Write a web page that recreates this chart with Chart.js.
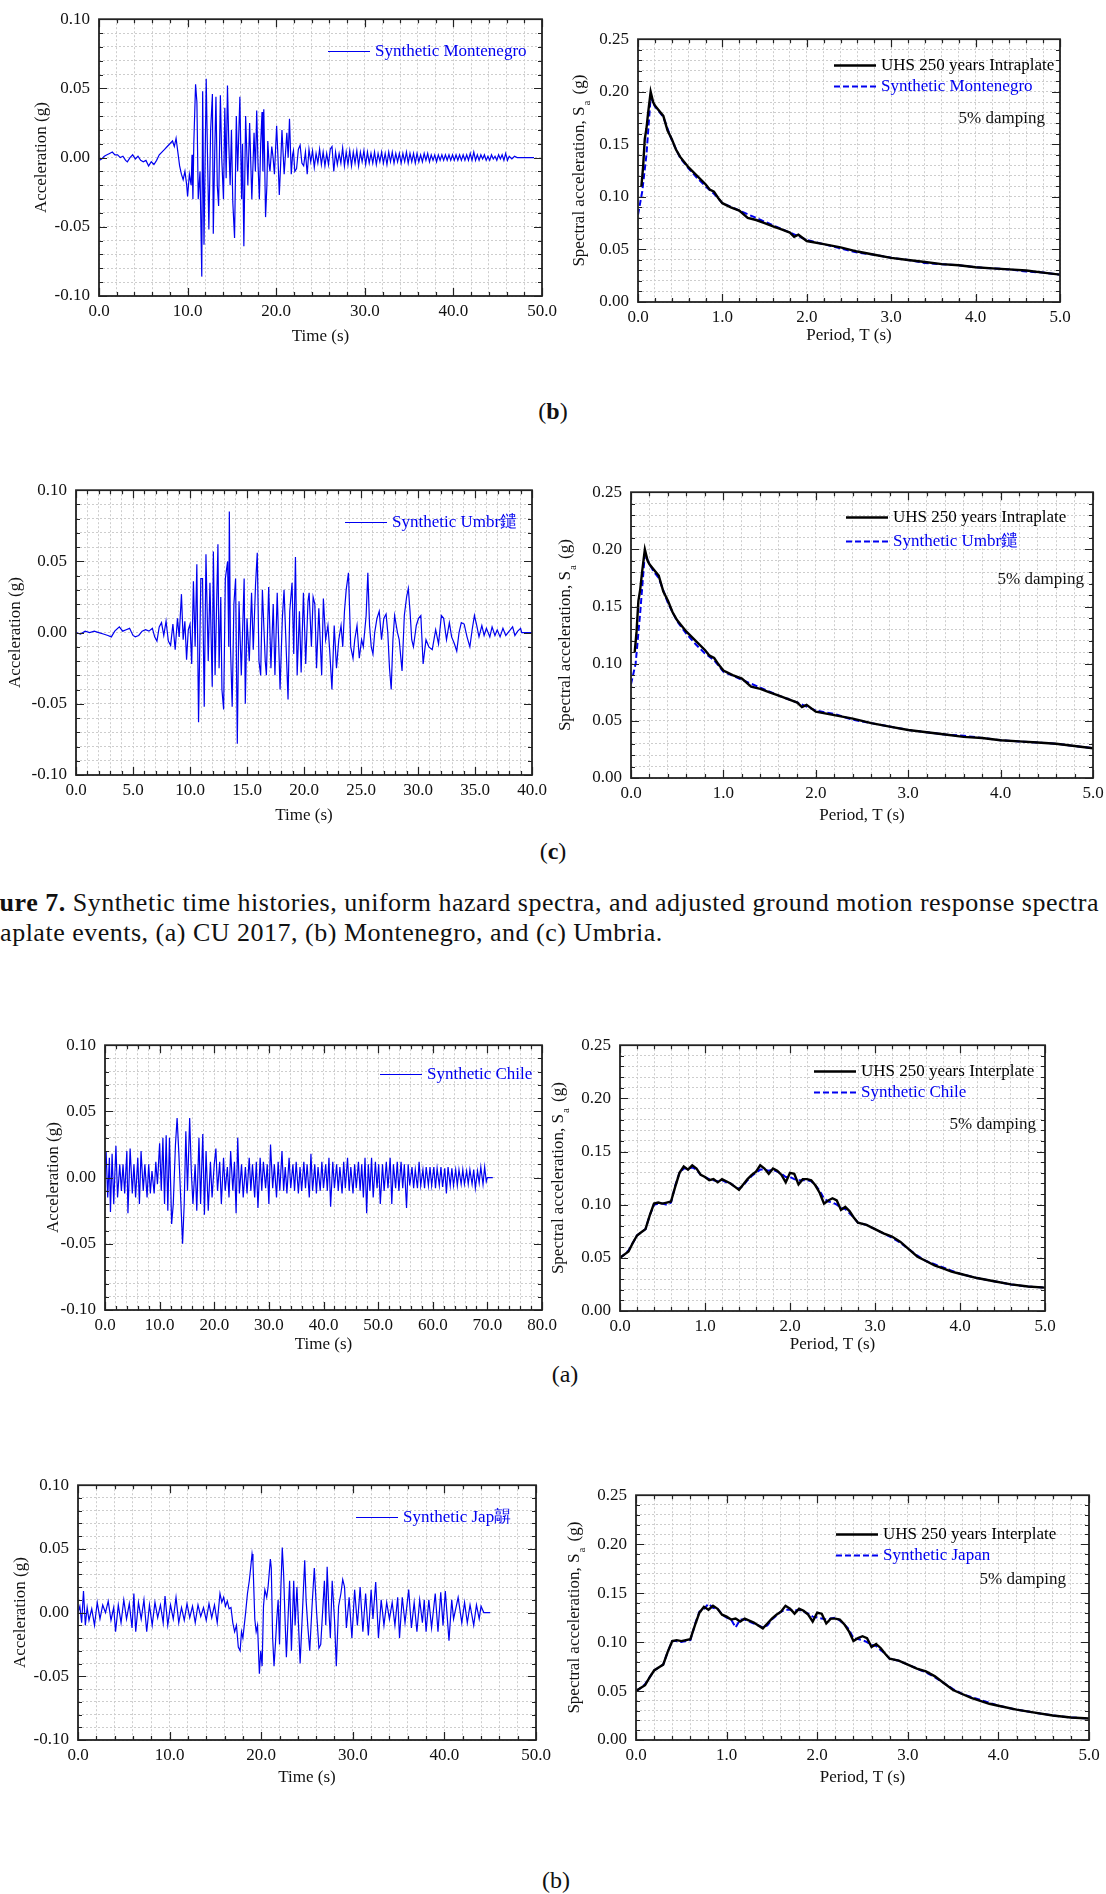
<!DOCTYPE html>
<html>
<head>
<meta charset="utf-8">
<title>Synthetic time histories and response spectra</title>
<script src="https://cdn.jsdelivr.net/npm/chart.js@4.4.1/dist/chart.umd.min.js"></script>
<style>
html, body { margin: 0; padding: 0; background: #fff; }
body { width: 1106px; height: 1894px; position: relative; overflow: hidden; font-family: 'Liberation Serif', 'Times New Roman', serif; color: #111; }
canvas { position: absolute; }
.lbl { position: absolute; font-size: 24px; line-height: 28px; transform: translateX(-50%); white-space: nowrap; }
.cap { position: absolute; left: -38px; font-size: 26px; line-height: 30px; letter-spacing: 0.5px; white-space: nowrap; }
</style>
</head>
<body>
<div class="lbl" style="left:553px;top:397px">(<b>b</b>)</div>
<div class="lbl" style="left:553px;top:837px">(<b>c</b>)</div>
<div class="cap" style="top:888px"><b>Figure 7.</b> Synthetic time histories, uniform hazard spectra, and adjusted ground motion response spectra</div>
<div class="cap" style="top:918px">intraplate events, (a) CU 2017, (b) Montenegro, and (c) Umbria.</div>
<div class="lbl" style="left:565px;top:1360px">(a)</div>
<div class="lbl" style="left:556px;top:1866px">(b)</div>

<script>
// ---- data ----
// time histories: [time (s), acceleration (g)]
const montenegroRecord = [[0,-0.002],[0.3,-0.001],[0.6,0.001],[0.9,0.002],[1.2,0.003],[1.5,0.004],[1.8,0.002],[2.1,0.002],[2.4,0],[2.7,0.001],[3.0,-0.002],[3.2,-0.003],[3.5,0],[3.8,0.002],[4.1,-0.001],[4.4,0.001],[4.7,-0.002],[5.0,-0.003],[5.3,-0.002],[5.6,-0.006],[5.9,-0.003],[6.2,-0.005],[6.5,-0.002],[6.8,0.002],[7.1,0.004],[7.4,0.006],[7.7,0.008],[8.0,0.01],[8.3,0.012],[8.5,0.008],[8.7,0.014],[8.9,0.004],[9.1,-0.006],[9.3,-0.012],[9.5,-0.016],[9.7,-0.01],[9.9,-0.02],[10.0,-0.028],[10.2,-0.012],[10.4,-0.02],[10.5,0.002],[10.6,-0.03],[10.7,0.01],[10.9,0.053],[11.05,0.04],[11.2,-0.03],[11.4,-0.01],[11.6,-0.086],[11.7,0.048],[11.85,-0.063],[12.1,0.057],[12.25,0],[12.4,-0.052],[12.6,0.02],[12.8,0.046],[12.9,-0.055],[13.05,0],[13.2,0.044],[13.35,-0.02],[13.5,-0.035],[13.7,0.045],[13.85,0],[14.05,-0.03],[14.2,0.036],[14.35,-0.015],[14.5,0.052],[14.65,0.01],[14.8,-0.02],[14.95,0.02],[15.1,-0.032],[15.3,-0.058],[15.5,0.03],[15.65,-0.01],[15.9,0.044],[16.1,-0.03],[16.2,0.01],[16.35,-0.064],[16.55,0.03],[16.7,0],[16.8,-0.02],[17.0,0.025],[17.25,-0.03],[17.5,0.018],[17.65,-0.01],[17.8,0.034],[17.95,-0.005],[18.1,-0.03],[18.25,0.01],[18.4,0.033],[18.5,-0.01],[18.6,0.035],[18.8,-0.043],[18.95,-0.02],[19.05,0.012],[19.2,-0.005],[19.3,-0.01],[19.5,0.008],[19.65,0],[19.8,-0.012],[20.05,0.023],[20.2,0],[20.35,-0.027],[20.5,-0.005],[20.65,0.02],[20.9,-0.012],[21.2,0.018],[21.35,0],[21.5,0.028],[21.7,-0.012],[21.85,0.002],[21.95,0.005],[22.1,-0.01],[22.3,-0.008],[22.5,0.006],[22.7,0.009],[22.9,-0.004],[23.1,-0.006],[23.3,0.004],[23.5,-0.012],[23.7,0.006],[23.9,-0.003],[24.1,0.005],[24.3,-0.007],[24.5,0.003],[24.7,-0.004],[24.9,0.006],[25.1,-0.005],[25.3,0.004],[25.5,-0.006],[25.7,0.003],[25.9,-0.005],[26.1,0.006],[26.3,0.008],[26.5,-0.01],[26.7,0.004],[26.9,-0.005],[27.1,0.003],[27.3,-0.004],[27.5,0.007],[27.7,-0.006],[27.9,0.004],[28.1,-0.005],[28.3,0.005],[28.5,-0.006],[28.7,0.004],[28.9,-0.004],[29.1,0.005],[29.3,-0.006],[29.5,0.004],[29.7,-0.003],[29.9,0.005],[30.1,-0.005],[30.3,0.004],[30.5,-0.004],[30.7,0.003],[30.9,-0.004],[31.1,0.004],[31.3,-0.005],[31.5,0.003],[31.7,-0.003],[31.9,0.004],[32.1,-0.004],[32.3,0.003],[32.5,-0.005],[32.7,0.004],[32.9,-0.003],[33.1,0.004],[33.3,-0.004],[33.5,0.003],[33.7,-0.003],[33.9,0.003],[34.1,-0.004],[34.3,0.003],[34.5,-0.003],[34.7,0.004],[34.9,-0.004],[35.1,0.003],[35.3,-0.003],[35.5,0.003],[35.7,-0.004],[35.9,0.003],[36.1,-0.003],[36.3,0.002],[36.5,-0.003],[36.7,0.003],[36.9,-0.002],[37.1,0.003],[37.3,-0.003],[37.5,0.002],[37.7,-0.002],[37.9,0.002],[38.1,-0.003],[38.3,0.002],[38.5,-0.002],[38.7,0.002],[38.9,-0.002],[39.1,0.002],[39.3,-0.002],[39.5,0.002],[39.7,-0.002],[39.9,0.002],[40.1,-0.002],[40.3,0.002],[40.5,-0.002],[40.7,0.002],[40.9,-0.002],[41.1,0.002],[41.3,-0.002],[41.5,0.002],[41.7,-0.002],[41.9,0.003],[42.1,-0.002],[42.3,0.004],[42.5,-0.002],[42.7,0.002],[42.9,-0.002],[43.1,0.002],[43.3,-0.001],[43.5,0.002],[43.7,-0.002],[43.9,0.001],[44.1,-0.002],[44.3,0.002],[44.5,-0.001],[44.7,0.001],[44.9,-0.002],[45.1,0.002],[45.3,-0.001],[45.5,0.002],[45.7,-0.002],[45.9,0.003],[46.1,-0.002],[46.3,0.001],[46.6,-0.001],[46.9,0.001],[47.2,0],[49.1,0]];

const umbriaRecord = [[0,0],[0.4,-0.001],[0.8,0.001],[1.2,0],[1.6,0.001],[2.0,0],[2.4,-0.001],[2.8,-0.002],[3.1,-0.003],[3.4,0.001],[3.8,0.004],[4.1,0.001],[4.4,0.002],[4.7,0.003],[5.0,-0.002],[5.2,-0.003],[5.5,-0.002],[5.8,0.001],[6.1,0.002],[6.4,0.001],[6.7,0.003],[6.9,-0.003],[7.1,-0.006],[7.3,0.004],[7.5,0.007],[7.7,-0.002],[7.9,0.008],[8.1,-0.006],[8.3,-0.009],[8.5,0.006],[8.7,-0.012],[8.9,0.01],[9.05,-0.003],[9.25,0.027],[9.4,-0.005],[9.55,0.008],[9.7,-0.019],[9.85,0.002],[10.0,0.006],[10.15,-0.022],[10.3,0.036],[10.45,-0.01],[10.6,0.048],[10.75,-0.063],[10.95,0.038],[11.1,0.038],[11.25,-0.052],[11.4,0.055],[11.6,-0.02],[11.75,0.035],[11.95,-0.038],[12.05,0.057],[12.2,-0.03],[12.45,0.062],[12.55,-0.025],[12.7,0.025],[12.8,-0.04],[12.95,-0.054],[13.1,0.038],[13.3,0.05],[13.4,-0.01],[13.45,0.085],[13.55,-0.01],[13.7,-0.052],[13.85,0.02],[14.0,0.038],[14.15,-0.078],[14.3,0.022],[14.5,-0.03],[14.75,0.038],[14.85,-0.05],[15.0,0.01],[15.2,-0.02],[15.4,0.028],[15.55,-0.012],[15.75,0.034],[15.9,0.056],[16.05,-0.02],[16.2,-0.03],[16.35,0.03],[16.6,-0.02],[16.7,-0.03],[16.9,0.032],[17.1,-0.025],[17.3,0.02],[17.45,-0.03],[17.65,0.028],[17.9,-0.04],[18.1,0.01],[18.25,0.03],[18.6,-0.047],[18.75,0.015],[18.95,0.035],[19.1,-0.015],[19.25,0.053],[19.4,-0.03],[19.6,0.015],[19.75,-0.028],[19.95,0.028],[20.15,-0.022],[20.35,0.022],[20.45,0.028],[20.65,-0.01],[20.8,0.025],[20.95,0.02],[21.1,-0.025],[21.3,0.017],[21.55,-0.03],[21.7,0.024],[21.9,-0.005],[22.1,0.005],[22.25,-0.012],[22.45,-0.04],[22.65,0.005],[22.85,-0.025],[23.05,-0.005],[23.25,0.005],[23.4,-0.01],[23.55,0.015],[23.7,0.03],[23.9,0.042],[24.1,-0.01],[24.3,-0.018],[24.45,-0.005],[24.65,0.005],[24.85,-0.018],[25.05,-0.005],[25.2,-0.01],[25.45,0.012],[25.6,0.042],[25.75,0.005],[25.9,-0.01],[26.05,-0.015],[26.2,0],[26.4,0.01],[26.6,0.015],[26.8,-0.005],[27.0,0.01],[27.2,0.013],[27.35,0],[27.5,-0.025],[27.65,-0.04],[27.8,-0.005],[27.95,0.012],[28.2,0],[28.35,-0.005],[28.6,-0.027],[28.8,0.012],[29.0,0.025],[29.15,0.031],[29.3,0.015],[29.45,-0.005],[29.6,-0.01],[29.85,0.005],[30.05,0.01],[30.25,0.012],[30.45,-0.022],[30.7,-0.005],[30.95,-0.01],[31.25,-0.012],[31.55,0.002],[31.8,-0.008],[32.05,0.012],[32.25,0.01],[32.5,-0.005],[32.75,0.007],[32.95,-0.003],[33.2,-0.008],[33.4,-0.013],[33.6,0],[33.8,0.007],[34.05,0.006],[34.3,-0.003],[34.55,-0.01],[34.75,0.002],[34.95,0.012],[35.15,0.005],[35.35,-0.003],[35.6,0.005],[35.8,-0.002],[36.0,0.003],[36.3,-0.003],[36.5,0.004],[36.75,-0.002],[36.95,0.002],[37.2,-0.003],[37.45,0.003],[37.7,-0.002],[38.0,0.001],[38.3,0.004],[38.5,-0.002],[38.75,0.001],[39.0,0.003],[39.1,0],[40,0]];

const chileRecord = [[0,0],[0.2,0.02],[0.5,-0.015],[0.8,0.015],[1.0,-0.026],[1.3,0.018],[1.6,-0.02],[2.0,0.024],[2.3,-0.015],[2.7,0.01],[3.0,-0.01],[3.3,0.01],[3.6,-0.012],[4.0,0.02],[4.2,-0.027],[4.6,0.022],[5.0,-0.012],[5.3,0.01],[5.6,-0.015],[6.0,0.015],[6.3,-0.02],[6.6,0.02],[7.0,-0.01],[7.3,0.01],[7.7,-0.015],[8.0,0.01],[8.3,-0.012],[8.6,0.005],[9.0,-0.012],[9.3,0.012],[9.6,-0.005],[10.0,0.026],[10.3,-0.01],[10.6,0.03],[10.9,-0.02],[11.2,0.032],[11.5,-0.025],[11.8,0.03],[12.2,-0.035],[12.5,-0.02],[12.9,0.025],[13.2,0.045],[13.5,0.02],[13.8,-0.01],[14.2,-0.05],[14.5,-0.02],[14.8,0.035],[15.1,-0.01],[15.5,0.045],[15.8,0.005],[16.1,-0.02],[16.5,0.01],[16.8,-0.025],[17.2,0.03],[17.5,-0.02],[17.9,0.033],[18.2,-0.028],[18.5,0.02],[18.9,-0.025],[19.3,0.012],[19.6,-0.015],[20.0,0.01],[20.3,0.022],[20.6,-0.01],[21.0,0.012],[21.3,-0.02],[21.7,0.015],[22.0,-0.01],[22.4,0.008],[22.7,-0.015],[23.0,0.02],[23.4,-0.01],[23.7,0.012],[24.0,-0.027],[24.3,0.03],[24.6,-0.012],[25.0,0.01],[25.3,-0.015],[25.7,0.008],[26.0,-0.012],[26.4,0.015],[26.7,-0.01],[27.0,0.01],[27.4,-0.015],[27.7,0.012],[28.0,-0.023],[28.4,0.015],[28.7,-0.01],[29.0,0.012],[29.4,-0.008],[29.7,0.01],[30.0,-0.02],[30.3,0.025],[30.7,-0.008],[31.0,0.01],[31.4,-0.015],[31.7,0.012],[32.0,-0.01],[32.4,0.02],[32.7,-0.01],[33.0,0.008],[33.3,-0.012],[33.7,0.015],[34.0,-0.008],[34.4,0.01],[34.7,-0.01],[35.0,0.012],[35.4,-0.012],[35.7,0.008],[36.0,-0.01],[36.4,0.012],[36.7,-0.008],[37.0,0.01],[37.4,-0.015],[37.7,0.018],[38.0,-0.01],[38.4,0.01],[38.7,-0.012],[39.0,0.008],[39.4,-0.01],[39.7,0.012],[40.0,-0.008],[40.4,0.01],[40.7,-0.01],[41.0,0.015],[41.3,-0.022],[41.7,0.012],[42.0,-0.008],[42.4,0.01],[42.7,-0.01],[43.0,0.008],[43.4,-0.012],[43.7,0.012],[44.0,-0.008],[44.4,0.015],[44.7,-0.01],[45.0,0.008],[45.4,-0.012],[45.7,0.01],[46.0,-0.008],[46.4,0.012],[46.7,-0.01],[47.0,0.01],[47.3,-0.015],[47.6,0.015],[47.9,-0.027],[48.2,0.01],[48.5,-0.01],[48.8,0.015],[49.1,-0.015],[49.5,0.012],[49.8,-0.008],[50.1,0.01],[50.4,-0.02],[50.8,0.01],[51.1,-0.01],[51.5,0.012],[51.8,-0.008],[52.2,0.015],[52.5,-0.02],[52.8,0.01],[53.2,-0.008],[53.5,0.012],[53.8,-0.01],[54.2,0.012],[54.5,-0.008],[54.8,0.01],[55.2,-0.023],[55.5,0.01],[55.8,-0.006],[56.2,0.008],[56.5,-0.008],[56.8,0.006],[57.2,-0.008],[57.5,0.012],[57.8,-0.006],[58.2,0.006],[58.5,-0.008],[58.8,0.008],[59.2,-0.006],[59.5,0.008],[59.8,-0.006],[60.2,0.008],[60.5,-0.008],[60.8,0.007],[61.2,-0.006],[61.5,0.008],[61.8,-0.007],[62.2,0.007],[62.5,-0.012],[62.8,0.008],[63.2,-0.006],[63.5,0.007],[63.8,-0.006],[64.2,0.006],[64.5,-0.006],[64.8,0.006],[65.2,-0.005],[65.5,0.006],[65.8,-0.005],[66.2,0.005],[66.5,-0.005],[66.8,0.006],[67.2,-0.005],[67.5,0.006],[67.8,-0.008],[68.2,0.005],[68.5,-0.004],[68.8,0.008],[69.2,-0.005],[69.5,0.008],[69.8,-0.003],[70.0,0],[71.0,0]];

const japanRecord = [[0,0],[0.2,0.005],[0.4,-0.008],[0.6,0.017],[0.8,-0.01],[1.0,0.004],[1.2,-0.006],[1.5,0.003],[1.8,-0.01],[2.1,0.008],[2.4,-0.005],[2.7,0.006],[3.0,0],[3.3,0.009],[3.6,-0.006],[3.9,0.004],[4.1,-0.015],[4.4,0.006],[4.7,-0.008],[5.0,0.01],[5.3,-0.005],[5.6,0.007],[5.9,-0.012],[6.1,0.015],[6.3,-0.015],[6.6,0.008],[6.9,-0.005],[7.2,0.01],[7.5,-0.015],[7.8,0.006],[8.1,-0.01],[8.4,0.008],[8.7,-0.004],[9.0,0.006],[9.3,-0.008],[9.5,0.013],[9.8,-0.01],[10.1,0.006],[10.4,-0.005],[10.7,0.012],[11.0,-0.008],[11.3,0.004],[11.6,-0.006],[11.9,0.007],[12.2,-0.004],[12.5,0.005],[12.8,-0.008],[13.1,0.006],[13.4,-0.003],[13.7,0.004],[14.0,-0.006],[14.3,0.007],[14.6,-0.004],[14.9,0.006],[15.2,-0.008],[15.5,0.015],[15.7,0.008],[15.9,0.012],[16.1,0.005],[16.3,0.009],[16.5,0.003],[16.7,0.004],[16.9,-0.008],[17.1,-0.015],[17.3,-0.01],[17.5,-0.027],[17.7,-0.03],[17.85,-0.015],[18.0,-0.02],[18.15,-0.01],[18.3,0],[18.5,0.015],[18.7,0.025],[18.85,0.035],[19.0,0.046],[19.1,0.04],[19.3,-0.005],[19.45,-0.015],[19.6,-0.01],[19.8,-0.048],[19.95,-0.03],[20.1,-0.042],[20.25,0.005],[20.4,0.018],[20.6,0.012],[20.75,0.02],[21.0,0.042],[21.1,0.035],[21.25,-0.02],[21.4,-0.042],[21.55,-0.025],[21.7,-0.005],[21.85,0.01],[22.0,-0.025],[22.15,0.02],[22.3,0.051],[22.45,0.03],[22.6,-0.005],[22.75,-0.035],[22.9,-0.01],[23.1,0.025],[23.3,-0.03],[23.55,0.025],[23.7,-0.01],[23.9,0.02],[24.25,-0.04],[24.5,0],[24.75,0.041],[24.9,0.01],[25.1,-0.012],[25.3,-0.03],[25.55,0.005],[25.8,0.035],[26.05,0],[26.3,-0.028],[26.5,-0.025],[26.7,0],[26.9,0.025],[27.05,-0.01],[27.2,0.036],[27.4,0],[27.55,-0.02],[27.75,0.025],[28.0,-0.005],[28.2,-0.042],[28.45,0.005],[28.7,0.015],[28.9,0.026],[29.1,0.02],[29.3,-0.012],[29.6,0.012],[29.9,-0.02],[30.2,0.018],[30.5,-0.01],[30.8,0.02],[31.1,-0.015],[31.4,0.015],[31.7,-0.018],[32.0,0.018],[32.2,-0.005],[32.5,0.024],[32.8,-0.02],[33.1,0.01],[33.4,-0.01],[33.7,0.008],[34.0,-0.005],[34.3,0.008],[34.6,-0.01],[34.9,0.012],[35.1,-0.02],[35.4,0.012],[35.7,-0.008],[36.1,0.018],[36.4,-0.012],[36.7,0.008],[37.0,-0.015],[37.3,0.01],[37.6,-0.008],[37.8,0.01],[38.0,-0.015],[38.3,0.01],[38.6,-0.012],[39.0,0.015],[39.3,-0.015],[39.6,0.016],[39.85,-0.01],[40.1,0.017],[40.5,-0.022],[40.8,0.01],[41.0,-0.005],[41.5,0.012],[41.9,-0.008],[42.2,0.008],[42.5,-0.008],[42.8,0.006],[43.2,-0.01],[43.5,0.006],[43.8,-0.005],[44.0,0.005],[44.3,0],[45.0,0]];

// response spectra: periods (s) and spectral acceleration (g)
const periodsUhsIntra = [0.04, 0.06, 0.08, 0.1, 0.12, 0.15, 0.18, 0.2, 0.25, 0.3, 0.35, 0.4, 0.45, 0.5, 0.55, 0.6, 0.7, 0.8, 0.85, 0.9, 0.95, 1.0, 1.1, 1.2, 1.3, 1.4, 1.5, 1.6, 1.7, 1.8, 1.85, 1.9, 2.0, 2.2, 2.4, 2.6, 2.8, 3.0, 3.2, 3.4, 3.6, 3.8, 4.0, 4.2, 4.4, 4.6, 4.8, 5.0];
const uhsIntraplate = [0.11, 0.128, 0.155, 0.165, 0.18, 0.2, 0.19, 0.187, 0.182, 0.177, 0.163, 0.155, 0.145, 0.138, 0.133, 0.128, 0.12, 0.112, 0.107, 0.105, 0.099, 0.094, 0.09, 0.087, 0.08, 0.078, 0.075, 0.072, 0.069, 0.066, 0.062, 0.064, 0.058, 0.055, 0.052, 0.048, 0.045, 0.042, 0.04, 0.038, 0.036, 0.035, 0.033, 0.032, 0.031, 0.03, 0.028, 0.026];
const periodsSynthIntra = [0, 0.05, 0.1, 0.15, 0.2, 0.25, 0.3, 0.4, 0.5, 0.6, 0.7, 0.8, 0.9, 1.0, 1.2, 1.4, 1.6, 1.8, 2.0, 2.2, 2.4, 2.6, 2.8, 3.0, 3.2, 3.4, 3.6, 3.8, 4.0, 4.2, 4.4, 4.6, 4.8, 5.0];
const synthMontenegro = [0.083, 0.105, 0.14, 0.195, 0.186, 0.181, 0.176, 0.154, 0.137, 0.127, 0.118, 0.11, 0.103, 0.094, 0.087, 0.08, 0.073, 0.066, 0.059, 0.055, 0.051, 0.047, 0.045, 0.042, 0.04, 0.037, 0.036, 0.035, 0.033, 0.032, 0.031, 0.029, 0.028, 0.026];
const synthUmbria = [0.082, 0.1, 0.145, 0.196, 0.187, 0.18, 0.175, 0.153, 0.137, 0.126, 0.117, 0.109, 0.103, 0.093, 0.086, 0.079, 0.072, 0.066, 0.059, 0.056, 0.051, 0.048, 0.045, 0.042, 0.04, 0.038, 0.037, 0.035, 0.033, 0.032, 0.031, 0.03, 0.028, 0.026];

const periodsInter = [0, 0.05, 0.1, 0.15, 0.2, 0.25, 0.3, 0.35, 0.4, 0.45, 0.5, 0.55, 0.6, 0.65, 0.7, 0.75, 0.8, 0.85, 0.9, 0.95, 1.0, 1.05, 1.1, 1.15, 1.2, 1.25, 1.3, 1.35, 1.4, 1.45, 1.5, 1.55, 1.6, 1.65, 1.7, 1.75, 1.8, 1.85, 1.9, 1.95, 2.0, 2.05, 2.1, 2.15, 2.2, 2.25, 2.3, 2.35, 2.4, 2.45, 2.5, 2.55, 2.6, 2.65, 2.7, 2.75, 2.8, 2.9, 3.0, 3.1, 3.2, 3.3, 3.4, 3.5, 3.6, 3.7, 3.8, 3.9, 4.0, 4.2, 4.4, 4.6, 4.8, 5.0];
const uhsInterplate = [0.05, 0.053, 0.056, 0.064, 0.071, 0.074, 0.077, 0.09, 0.101, 0.102, 0.101, 0.102, 0.103, 0.117, 0.13, 0.136, 0.133, 0.137, 0.134, 0.128, 0.126, 0.123, 0.124, 0.121, 0.124, 0.122, 0.12, 0.117, 0.114, 0.119, 0.124, 0.128, 0.131, 0.137, 0.134, 0.129, 0.134, 0.132, 0.128, 0.121, 0.13, 0.129, 0.119, 0.124, 0.124, 0.123, 0.118, 0.111, 0.101, 0.104, 0.106, 0.104, 0.095, 0.098, 0.094, 0.088, 0.083, 0.081, 0.077, 0.073, 0.07, 0.065, 0.058, 0.051, 0.047, 0.043, 0.04, 0.037, 0.035, 0.031, 0.028, 0.025, 0.023, 0.022];
const synthChile = [0.05, 0.053, 0.057, 0.064, 0.071, 0.074, 0.077, 0.09, 0.1, 0.101, 0.101, 0.1, 0.102, 0.118, 0.13, 0.134, 0.134, 0.135, 0.133, 0.128, 0.126, 0.124, 0.123, 0.122, 0.123, 0.121, 0.12, 0.117, 0.115, 0.118, 0.123, 0.127, 0.13, 0.133, 0.133, 0.132, 0.133, 0.131, 0.129, 0.126, 0.126, 0.124, 0.123, 0.123, 0.123, 0.122, 0.118, 0.113, 0.106, 0.103, 0.102, 0.1, 0.097, 0.096, 0.092, 0.088, 0.083, 0.081, 0.077, 0.073, 0.069, 0.064, 0.058, 0.052, 0.047, 0.044, 0.041, 0.038, 0.035, 0.031, 0.028, 0.025, 0.023, 0.022];
const synthJapan = [0.05, 0.053, 0.057, 0.064, 0.071, 0.074, 0.077, 0.09, 0.101, 0.101, 0.1, 0.101, 0.102, 0.118, 0.131, 0.134, 0.139, 0.135, 0.134, 0.128, 0.125, 0.123, 0.115, 0.123, 0.123, 0.121, 0.119, 0.117, 0.115, 0.117, 0.123, 0.127, 0.131, 0.133, 0.133, 0.132, 0.133, 0.131, 0.129, 0.126, 0.125, 0.124, 0.123, 0.124, 0.125, 0.122, 0.118, 0.113, 0.104, 0.103, 0.102, 0.1, 0.097, 0.096, 0.092, 0.088, 0.083, 0.081, 0.077, 0.073, 0.069, 0.064, 0.058, 0.052, 0.047, 0.044, 0.041, 0.038, 0.035, 0.031, 0.028, 0.025, 0.023, 0.022];

// ---- drawing ----
const FONT = "'Liberation Serif', 'Times New Roman', serif";
Chart.defaults.font.family = FONT;
Chart.defaults.font.size = 17;
Chart.defaults.color = '#111';

const BLUE = '#0000f0';
const Y_BOX = 100, X_BOX = 60, PAD_T = 16, PAD_R = 30;
const LINE_H = 17 * 1.2;

function onStep(v, step) {
  const k = v / step;
  return Math.abs(k - Math.round(k)) < 1e-6;
}

function axis(a, horizontal) {
  return {
    type: 'linear',
    min: a.min,
    max: a.max,
    afterFit(scale) {
      if (horizontal) scale.height = X_BOX; else scale.width = Y_BOX;
    },
    ticks: {
      stepSize: a.minor,
      autoSkip: false,
      maxRotation: 0,
      minRotation: 0,
      padding: horizontal ? 5 : 9,
      callback: v => onStep(v, a.major) ? Number(v).toFixed(a.digits) : ''
    },
    grid: { color: '#cdcdcd', lineWidth: 1, drawTicks: false },
    border: { display: false, dash: [2, 2] },
    title: a.title ? {
      display: true,
      text: a.title,
      padding: horizontal ? { top: 0, bottom: X_BOX - a.off - LINE_H / 2 } : { top: Y_BOX - a.off - LINE_H / 2, bottom: 0 }
    } : { display: false }
  };
}

// frame with inward ticks, in-plot legend, note and the S_a axis title
function framePlugin(cfg) {
  return {
    id: 'frame',
    afterDraw(chart) {
      const { ctx, chartArea: a, scales } = chart;
      ctx.save();
      ctx.strokeStyle = '#222';
      ctx.lineWidth = 1.2;
      ctx.beginPath();
      scales.x.ticks.forEach(t => {
        const p = Math.round(scales.x.getPixelForValue(t.value)) + 0.5;
        const n = onStep(t.value, cfg.xMajor) ? 8 : 4;
        ctx.moveTo(p, a.bottom); ctx.lineTo(p, a.bottom - n);
        ctx.moveTo(p, a.top); ctx.lineTo(p, a.top + n);
      });
      scales.y.ticks.forEach(t => {
        const p = Math.round(scales.y.getPixelForValue(t.value)) + 0.5;
        const n = onStep(t.value, cfg.yMajor) ? 8 : 4;
        ctx.moveTo(a.left, p); ctx.lineTo(a.left + n, p);
        ctx.moveTo(a.right, p); ctx.lineTo(a.right - n, p);
      });
      ctx.stroke();
      ctx.lineWidth = 1.8;
      ctx.strokeRect(a.left, a.top, a.right - a.left, a.bottom - a.top);

      ctx.font = '17px ' + FONT;
      ctx.textBaseline = 'middle';
      chart.data.datasets.forEach((ds, i) => {
        const x = a.left + cfg.legend.x;
        const y = Math.round(a.top + cfg.legend.y + i * cfg.legend.gap) + 0.5;
        ctx.strokeStyle = ds.borderColor;
        ctx.lineWidth = ds.borderWidth;
        ctx.setLineDash(ds.borderDash || []);
        ctx.beginPath(); ctx.moveTo(x, y); ctx.lineTo(x + 42, y); ctx.stroke();
        ctx.setLineDash([]);
        ctx.fillStyle = ds.borderColor;
        ctx.textAlign = 'left';
        ctx.fillText(ds.label, x + 47, y);
      });
      if (cfg.note) {
        ctx.fillStyle = '#111';
        ctx.textAlign = 'right';
        ctx.fillText('5% damping', a.right - cfg.note.right, a.top + cfg.note.y);
      }
      if (cfg.saTitle) {
        const big = '17px ' + FONT, small = '11px ' + FONT;
        const main = 'Spectral acceleration, S', sub = 'a', tail = ' (g)';
        ctx.translate(a.left - cfg.saTitle, (a.top + a.bottom) / 2);
        ctx.rotate(-Math.PI / 2);
        ctx.font = big;
        const w1 = ctx.measureText(main).width, w3 = ctx.measureText(tail).width;
        ctx.font = small;
        const w2 = ctx.measureText(sub).width;
        const x0 = -(w1 + w2 + w3 + 3) / 2;
        ctx.fillStyle = '#111';
        ctx.textAlign = 'left';
        ctx.font = big; ctx.fillText(main, x0, 0);
        ctx.font = small; ctx.fillText(sub, x0 + w1 + 1, 7);
        ctx.font = big; ctx.fillText(tail, x0 + w1 + w2 + 3, 0);
      }
      ctx.restore();
    }
  };
}

function makeChart(box, datasets, xAxis, yAxis, extra) {
  const c = document.createElement('canvas');
  const w = box.r - box.l + Y_BOX + PAD_R;
  const h = box.b - box.t + PAD_T + X_BOX;
  c.width = w; c.height = h;
  c.style.left = (box.l - Y_BOX) + 'px';
  c.style.top = (box.t - PAD_T) + 'px';
  c.style.width = w + 'px'; c.style.height = h + 'px';
  document.body.appendChild(c);
  extra.xMajor = xAxis.major;
  extra.yMajor = yAxis.major;
  return new Chart(c.getContext('2d'), {
    type: 'line',
    data: { datasets },
    options: {
      responsive: false,
      animation: false,
      events: [],
      layout: { padding: { top: PAD_T, right: PAD_R, bottom: 0, left: 0 } },
      elements: { point: { radius: 0 }, line: { tension: 0 } },
      plugins: { legend: { display: false }, tooltip: { enabled: false } },
      scales: { x: axis(xAxis, true), y: axis(yAxis, false) }
    },
    plugins: [framePlugin(extra)]
  });
}

function record(label, pairs) {
  return { label, data: pairs.map(p => ({ x: p[0], y: p[1] })), borderColor: BLUE, borderWidth: 1.2, fill: false };
}
function spectrum(label, periods, values, dashed) {
  return {
    label,
    data: periods.map((p, i) => ({ x: p, y: values[i] })),
    borderColor: dashed ? BLUE : '#000',
    borderWidth: dashed ? 2 : 2.4,
    borderDash: dashed ? [6, 3] : [],
    fill: false
  };
}

const accAxis = off => ({ min: -0.1, max: 0.1, minor: 0.01, major: 0.05, digits: 2, title: 'Acceleration (g)', off });
const timeAxis = (max, minor, major, off) => ({ min: 0, max, minor, major, digits: 1, title: 'Time (s)', off });
const saAxis = { min: 0, max: 0.25, minor: 0.01, major: 0.05, digits: 2, title: null };
const periodAxis = off => ({ min: 0, max: 5, minor: 0.2, major: 1, digits: 1, title: 'Period, T (s)', off });

// (b) Montenegro
makeChart({ l: 99, r: 542, t: 16, b: 296 },
  [record('Synthetic Montenegro', montenegroRecord)],
  timeAxis(50, 2, 10, 41), accAxis(57), { legend: { x: 229, y: 32, gap: 0 } });
makeChart({ l: 638, r: 1060, t: 36, b: 302 },
  [spectrum('UHS 250 years Intraplate', periodsUhsIntra, uhsIntraplate, false),
   spectrum('Synthetic Montenegro', periodsSynthIntra, synthMontenegro, true)],
  periodAxis(34), saAxis, { legend: { x: 196, y: 26, gap: 21 }, note: { right: 15, y: 79 }, saTitle: 58 });

// (c) Umbria
makeChart({ l: 76, r: 532, t: 487, b: 775 },
  [record('Synthetic Umbr鑓', umbriaRecord)],
  timeAxis(40, 1, 5, 41), accAxis(60), { legend: { x: 269, y: 32, gap: 0 } });
makeChart({ l: 631, r: 1093, t: 489, b: 778 },
  [spectrum('UHS 250 years Intraplate', periodsUhsIntra, uhsIntraplate, false),
   spectrum('Synthetic Umbr鑓', periodsSynthIntra, synthUmbria, true)],
  periodAxis(38), saAxis, { legend: { x: 215, y: 25, gap: 24 }, note: { right: 9, y: 87 }, saTitle: 65 });

// (a) Chile
makeChart({ l: 105, r: 542, t: 1042, b: 1310 },
  [record('Synthetic Chile', chileRecord)],
  timeAxis(80, 2, 10, 35), accAxis(51), { legend: { x: 275, y: 29, gap: 0 } });
makeChart({ l: 620, r: 1045, t: 1042, b: 1311 },
  [spectrum('UHS 250 years Interplate', periodsInter, uhsInterplate, false),
   spectrum('Synthetic Chile', periodsInter, synthChile, true)],
  periodAxis(34), saAxis, { legend: { x: 194, y: 26, gap: 21 }, note: { right: 9, y: 79 }, saTitle: 61 });

// (b) Japan
makeChart({ l: 78, r: 536, t: 1482, b: 1740 },
  [record('Synthetic Jap髜', japanRecord)],
  timeAxis(50, 2, 10, 38), accAxis(57), { legend: { x: 278, y: 32, gap: 0 } });
makeChart({ l: 636, r: 1089, t: 1492, b: 1740 },
  [spectrum('UHS 250 years Interplate', periodsInter, uhsInterplate, false),
   spectrum('Synthetic Japan', periodsInter, synthJapan, true)],
  periodAxis(38), saAxis, { legend: { x: 200, y: 39, gap: 21 }, note: { right: 23, y: 84 }, saTitle: 61 });
</script>
</body>
</html>
